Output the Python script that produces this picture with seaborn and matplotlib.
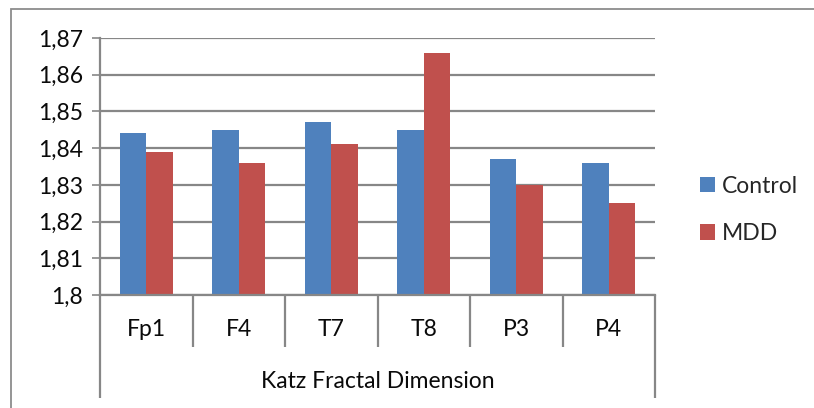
import matplotlib
matplotlib.use("Agg")
import matplotlib.pyplot as plt
from matplotlib.patches import Rectangle, Patch
import seaborn as sns
import pandas as pd

channels = ["Fp1", "F4", "T7", "T8", "P3", "P4"]
control = [1.844, 1.845, 1.847, 1.845, 1.837, 1.836]
mdd = [1.839, 1.836, 1.841, 1.866, 1.830, 1.825]
groups = ["Control", "MDD"]
y_ticks = [1.80, 1.81, 1.82, 1.83, 1.84, 1.85, 1.86, 1.87]
y_tick_labels = ["1,8", "1,81", "1,82", "1,83", "1,84", "1,85", "1,86", "1,87"]
x_title = "Katz Fractal Dimension"

blue = "#4F81BD"
red = "#C0504D"
grid_grey = "#878787"
text_color = "#0a0a0a"
fs = 16.5

df = pd.DataFrame({
    "channel": channels * 2,
    "value": control + mdd,
    "group": [groups[0]] * len(channels) + [groups[1]] * len(channels),
})

sns.set_theme(style="white")
plt.rcParams["font.family"] = ["Lato", "DejaVu Sans"]

W, H = 814, 408
fig = plt.figure(figsize=(W / 100, H / 100), dpi=100)
ax = fig.add_axes([100 / W, 1 - 295 / H, 555 / W, 257 / H])

sns.barplot(data=df, x="channel", y="value", hue="group", order=channels,
            hue_order=groups, palette=[blue, red], width=0.57, saturation=1,
            linewidth=0, legend=False, ax=ax)

ax.set_ylim(1.80, 1.87)
ax.set_xlim(-0.5, len(channels) - 0.5)
ax.set_yticks(y_ticks)
ax.set_yticklabels(y_tick_labels, fontsize=fs, color=text_color)
ax.yaxis.grid(True, color=grid_grey, linewidth=1.6)
ax.set_axisbelow(True)
ax.tick_params(axis="y", which="major", left=True, length=6, width=1.2,
               color=grid_grey, pad=6)
ax.tick_params(axis="x", bottom=False, labelbottom=False)
ax.set_xlabel("")
ax.set_ylabel("")

for side in ["top", "right"]:
    ax.spines[side].set_visible(False)
for side in ["left", "bottom"]:
    ax.spines[side].set_color(grid_grey)
    ax.spines[side].set_linewidth(1.6)

# category table below the plot
trans = ax.get_xaxis_transform()
for i in range(len(channels) + 1):
    x = i - 0.5
    y_end = -0.401 if i in (0, len(channels)) else -0.202
    ax.plot([x, x], [0, y_end], transform=trans, color=grid_grey,
            linewidth=1.6, clip_on=False, solid_capstyle="butt")
for i, name in enumerate(channels):
    ax.text(i, -0.136, name, transform=trans, ha="center", va="center",
            fontsize=fs, color=text_color)
ax.text((len(channels) - 1) / 2, -0.335, x_title, transform=trans,
        ha="center", va="center", fontsize=fs, color=text_color)

# legend
handles = [Patch(facecolor=blue, edgecolor="none"),
           Patch(facecolor=red, edgecolor="none")]
fig.legend(handles, groups, loc="center left",
           bbox_to_anchor=(691 / W, 1 - 210 / H), frameon=False,
           fontsize=fs, handlelength=0.65, handleheight=0.65,
           handletextpad=0.3, labelspacing=1.15, borderaxespad=0)

# outer chart frame
fig.patches.append(Rectangle((11 / W, -0.2), 1.2, 1.2 - 9 / H,
                             transform=fig.transFigure, fill=False,
                             edgecolor="#8c8c8c", linewidth=1.3))

fig.savefig("out.png", dpi=100)
